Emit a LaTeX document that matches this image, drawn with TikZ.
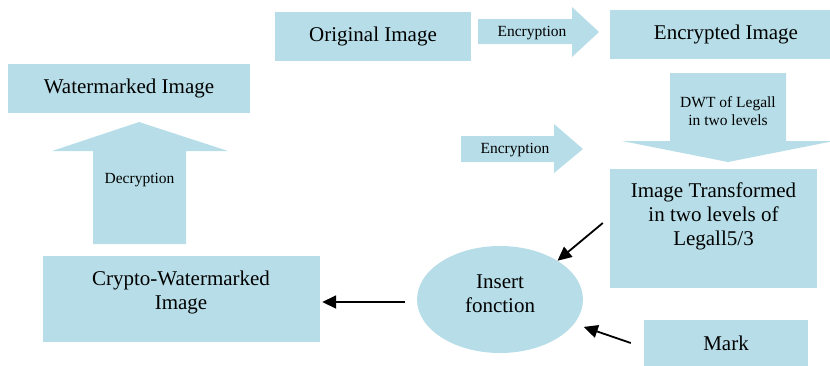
\documentclass[tikz,border=0pt]{standalone}
\usepackage{fontspec}
\setmainfont{Liberation Serif}
\usetikzlibrary{arrows.meta,shapes.geometric}

\definecolor{wmblue}{RGB}{183,222,232}

\tikzset{
  box/.style={fill=wmblue, inner sep=0pt},
  big/.style={font=\fontsize{21}{24}\selectfont, align=center},
  small/.style={font=\fontsize{15.5}{18}\selectfont, align=center},
  conn/.style={line width=1.8pt, -{Triangle[length=14pt,width=13pt]}},
}

\begin{document}
\begin{tikzpicture}[x=1pt, y=-1pt]
  \useasboundingbox (0,0) rectangle (830,365);

  % block arrows
  \fill[wmblue] (478,19) -- (572,19) -- (572,7) -- (599,32) -- (572,57) -- (572,44) -- (478,44) -- cycle;
  \fill[wmblue] (461,136) -- (554,136) -- (554,124) -- (583,149) -- (554,173) -- (554,162) -- (461,162) -- cycle;
  \fill[wmblue] (670,73) -- (786,73) -- (786,141) -- (834,141) -- (728,162) -- (622,141) -- (670,141) -- cycle;
  \fill[wmblue] (93,244) -- (93,151) -- (52,151) -- (139,122) -- (228,151) -- (186,151) -- (186,244) -- cycle;

  \node[small] (enc1) at (532,33) {Encryption};
  \node[small] (enc2) at (515,150) {Encryption};
  \node[small] (dwt) at (728,111) {DWT of Legall\\in two levels};
  \node[small] (decr) at (139.5,180) {Decryption};

  % boxes
  \node[box, big, minimum width=196pt, minimum height=49pt] (orig) at (373,36.5) {Original Image};
  \node[box, big, minimum width=232pt, minimum height=49pt] (encr) at (726,34) {Encrypted Image};
  \node[box, minimum width=207pt, minimum height=119pt] (trans) at (713.5,228.5) {};
  \node[big] (transtxt) at (713.5,216) {Image Transformed\\in two levels of\\Legall5/3};
  \node[box, big, minimum width=242pt, minimum height=49pt] (wm) at (129,88.5) {Watermarked Image};
  \node[box, minimum width=277pt, minimum height=86pt] (crypto) at (181.5,299) {};
  \node[big] (cryptotxt) at (181,292.5) {Crypto-Watermarked\\Image};
  \node[box, ellipse, minimum width=166pt, minimum height=107pt] (ins) at (500,299.5) {};
  \node[big] (instxt) at (500,294) {Insert\\fonction};
  \node[box, big, minimum width=164pt, minimum height=46pt] (mark) at (726,343) {Mark};

  % connectors
  \draw[conn] ([shift={(-7pt,5.5pt)}]trans.west) -- (ins.34);
  \draw[conn, shorten >=10pt] ([xshift=-13pt]mark.west) -- (ins.-18);
  \draw[conn] ([shift={(-12pt,-2.5pt)}]ins.west) -- ([shift={(2pt,-3pt)}]crypto.east);

\end{tikzpicture}
\end{document}
